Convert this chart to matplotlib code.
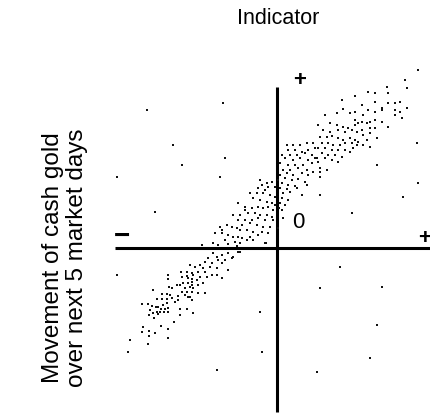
import matplotlib
matplotlib.use("Agg")
import matplotlib.pyplot as plt

# Indicator reading (x) against movement of cash gold over next 5 market days (y),
# arbitrary units, origin where the two axes cross.
indicator = [
    # lower-left end of the band
    -109, -109, -96, -90, -85, -90, -84, -95, -89, -85, -100, -97, -94, -89, -85,
    -92, -87, -84, -108, -105, -95, -90, -85, -99, -92, -89, -115, -110, -107, -124,
    -120, -115, -110, -105, -102, -99, -85, -135, -129, -125, -121, -119, -114, -110,
    -116, -112, -109, -127, -124, -120, -117, -113, -109, -128, -119, -123, -97, -90,
    -84, -103, -97, -116, -109, -134, -135, -128, -122, -128, -109, -147, -129, -149,
    # band crossing the horizontal axis
    -57, -55, -45, -40, -37, -55, -49, -44, -39, -35, -52, -42, -37, -64, -59, -49,
    -40, -64, -60, -55, -49, -44, -37, -69, -59, -52, -45, -72, -65, -55, -77, -87,
    -82, -74, -67, -60, -49, -79, -72, -65, -60, -55, -77, -70, -80, -85, -79, -74,
    -79, -72, -87, -44, -50, -62, -32, -11, -39,
    # band just left of the vertical axis
    -17, -10, -5, -15, -9, -2, -19, -12, -27, -20, -14, -7, -2, -39, -24, -17, -10,
    -5, -2, -32, -25, -19, -14, -9, -4, -37, -29, -22, -17, -10, -5, -39, -32, -25,
    -19, -12, -4, -35, -27, -20, -14, -7, -30, -24, -15, -9, -27, -19, -30, -24, -12,
    # band just right of the vertical axis
    10, 16, 23, 30, 36, 11, 18, 25, 31, 38, 5, 13, 20, 28, 35, 8, 16, 23, 31, 38, 3,
    11, 18, 26, 35, 6, 13, 21, 30, 36, 3, 10, 16, 25, 31, 1, 8, 15, 21, 28, 5, 11, 18,
    30, 3, 10, 20, 6, 13, 25, 5, 11, 8, 3, 5, 6, 2, 1,
    # middle of the upper band
    65, 48, 60, 73, 78, 41, 53, 60, 66, 71, 78, 81, 46, 53, 61, 68, 75, 80, 43, 50,
    55, 61, 66, 73, 78, 81, 45, 51, 56, 63, 68, 75, 80, 41, 48, 55, 61, 68, 76, 45,
    51, 58, 65, 73, 40, 48, 55, 61, 41, 43, 50, 43, 43, 66,
    # upper-right end of the band
    130, 110, 91, 98, 111, 78, 98, 111, 118, 123, 130, 85, 105, 118, 123, 86, 91, 98,
    105, 118, 125, 78, 85, 90, 93, 98, 105, 85, 93, 98, 86, 93, 90, 100, 86, 93,
    # scattered readings away from the band
    -149, -60, -17, -15, -160, -122, -160, -130, -104, -95, -54, -52, -57, -75,
    63, 43, 105, 100, 93, 40, 75, 126, 141, 140, 100, 43, 141, 128, 111,
]

movement = [
    # lower-left end of the band
    -27, -31, -24, -24, -25, -28, -27, -29, -30, -31, -37, -37, -35, -35, -34,
    -40, -39, -40, -39, -40, -44, -44, -44, -48, -47, -49, -46, -46, -47, -42,
    -51, -51, -51, -50, -54, -52, -52, -56, -56, -58, -59, -59, -57, -55,
    -61, -61, -60, -62, -65, -64, -64, -64, -64, -67, -66, -70, -61, -61,
    -65, -74, -67, -78, -81, -79, -84, -83, -85, -88, -90, -92, -96, -104,
    # band crossing the horizontal axis
    21, 18, 21, 20, 18, 15, 13, 11, 11, 10, 8, 6, 5, 5, 3, 4,
    2, -5, -9, -7, -5, -9, -4, -10, -12, -12, -10, -14, -15, -15, -17, -17,
    -19, -20, -19, -20, -22, -24, -24, -27, -27, -30, -29, -29, -32, -37, -37, -35,
    -45, -45, -49, 33, 23, 15, 38, 5, -4,
    # band just left of the vertical axis
    68, 65, 66, 63, 61, 61, 60, 58, 55, 55, 55, 53, 51, 45, 50, 48, 46,
    45, 43, 41, 40, 41, 40, 41, 38, 33, 35, 35, 33, 33, 31, 28, 28, 28,
    30, 28, 28, 23, 25, 23, 21, 21, 18, 16, 16, 15, 11, 13, 8, 8, 5,
    # band just right of the vertical axis
    103, 103, 103, 105, 105, 98, 98, 96, 98, 100, 93, 93, 93, 95, 93, 90, 88, 90, 88, 90, 85,
    83, 83, 83, 85, 78, 78, 80, 78, 76, 73, 75, 73, 75, 73, 68, 70, 68, 69, 66, 65, 63, 62,
    63, 60, 59, 60, 55, 56, 53, 50, 48, 43, 45, 38, 30, 40, 20,
    # middle of the upper band
    148, 133, 135, 135, 136, 123, 125, 123, 121, 120, 123, 125, 118, 116, 118, 116, 118, 116, 111, 111,
    112, 110, 108, 110, 108, 106, 105, 105, 103, 103, 105, 105, 103, 100, 100, 98, 98, 98, 100, 95,
    93, 93, 91, 96, 90, 90, 88, 86, 86, 80, 78, 76, 71, 139,
    # upper-right end of the band
    160, 161, 156, 155, 155, 152, 146, 145, 145, 146, 140, 143, 138, 138, 136, 133, 138, 136,
    140, 133, 130, 128, 126, 125, 126, 128, 126, 118, 120, 120, 113, 115, 108, 110, 103, 101,
    # scattered readings away from the band
    -104, -122, -64, -104, -27, 36, 71, 138, 103, 83, 145, 90, 71, 3,
    -19, -40, -39, -77, -110, -124, 35, 51, 65, 105, 83, 53, 178, 168, 121,
]

title_text = "Indicator"
ylabel_lines = ["Movement of cash gold", "over next 5 market days"]

FONT = ["Liberation Sans", "DejaVu Sans"]

fig = plt.figure(figsize=(4.31, 4.15), dpi=100)
ax = fig.add_axes([0, 0, 1, 1])
ax.set_xlim(-277, 154)
ax.set_ylim(-167, 248)
ax.axis("off")

# crossing axes
ax.plot([-162, 154], [0, 0], color="black", lw=2.2, solid_capstyle="butt", zorder=2)
ax.plot([0, 0], [-164, 161], color="black", lw=2.2, solid_capstyle="butt", zorder=2)

ax.scatter(indicator, movement, s=2.6, marker="s", c="#111111", linewidths=0, zorder=3)

# sign markers and origin
ax.text(23, 168, "+", fontsize=16, fontweight="bold", ha="center", va="center", family=FONT)
ax.text(148, 10, "+", fontsize=16, fontweight="bold", ha="center", va="center", family=FONT)
ax.text(-155, 11, "\u2212", fontsize=20, fontweight="bold", ha="center", va="center", family=FONT)
ax.text(21, 26, "0", fontsize=16, ha="center", va="center", family=FONT)

fig.text(0.645, 0.955, title_text, fontsize=15.5, ha="center", va="center", family=FONT)
fig.text(0.122, 0.38, ylabel_lines[0], fontsize=17.5, rotation=90, ha="center", va="center", family=FONT)
fig.text(0.178, 0.38, ylabel_lines[1], fontsize=17.5, rotation=90, ha="center", va="center", family=FONT)

fig.savefig("out.png", dpi=100)
